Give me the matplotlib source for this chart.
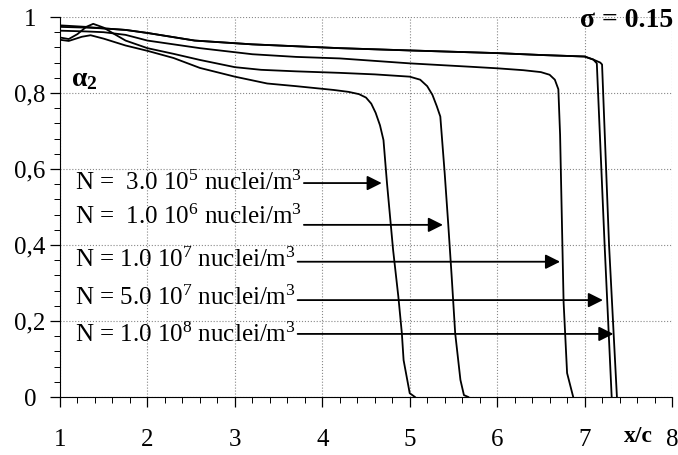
import matplotlib
matplotlib.use("Agg")
import matplotlib.pyplot as plt
import matplotlib.transforms as mtransforms
from matplotlib.ticker import MultipleLocator

plt.rcParams['font.family'] = ['Liberation Serif', 'DejaVu Serif']
plt.rcParams['mathtext.fontset'] = 'custom'
plt.rcParams['mathtext.rm'] = 'Liberation Serif'
plt.rcParams['mathtext.it'] = 'Liberation Serif:italic'
plt.rcParams['mathtext.bf'] = 'Liberation Serif:bold'

# alpha_2 profiles along x/c, one per nuclei concentration
x_3e5 = [1.0, 1.1, 1.25, 1.35, 1.5, 1.75, 2.0, 2.3, 2.6, 3.0, 3.37, 3.7, 4.13, 4.3,
         4.42, 4.5, 4.56, 4.61, 4.66, 4.70, 4.74, 4.81, 4.87, 4.91, 4.93, 5.0, 5.06]
y_3e5 = [0.940, 0.937, 0.948, 0.952, 0.943, 0.925, 0.911, 0.892, 0.866, 0.843, 0.825, 0.818,
         0.808, 0.803, 0.797, 0.788, 0.772, 0.748, 0.715, 0.676, 0.563, 0.387, 0.264, 0.168,
         0.097, 0.010, 0.0]

x_1e6 = [1.0, 1.1, 1.2, 1.3, 1.38, 1.5, 1.6, 1.75, 2.0, 2.3, 2.6, 3.0, 3.3, 3.7, 4.2, 4.6,
         5.0, 5.12, 5.2, 5.26, 5.31, 5.35, 5.40, 5.44, 5.48, 5.52, 5.58, 5.62, 5.67]
y_1e6 = [0.946, 0.942, 0.955, 0.974, 0.982, 0.972, 0.958, 0.938, 0.918, 0.903, 0.887, 0.868,
         0.861, 0.857, 0.853, 0.849, 0.843, 0.835, 0.818, 0.795, 0.765, 0.738, 0.589, 0.457,
         0.317, 0.168, 0.045, 0.005, 0.0]

x_1e7 = [1.0, 1.3, 1.5, 1.75, 2.0, 2.6, 3.2, 3.7, 4.2, 5.0, 5.7, 6.0, 6.3, 6.5, 6.6,
         6.66, 6.70, 6.72, 6.74, 6.76, 6.80, 6.87]
y_1e7 = [0.964, 0.962, 0.960, 0.953, 0.938, 0.918, 0.902, 0.895, 0.891, 0.878, 0.869, 0.865,
         0.860, 0.855, 0.848, 0.835, 0.810, 0.690, 0.470, 0.250, 0.063, 0.0]

x_5e7 = [1.0, 1.3, 1.5, 1.75, 2.0, 2.54, 3.2, 4.2, 5.0, 6.0, 6.5, 7.0, 7.1, 7.14, 7.23, 7.31]
y_5e7 = [0.974, 0.972, 0.970, 0.966, 0.958, 0.938, 0.928, 0.918, 0.912, 0.905, 0.900, 0.896,
         0.888, 0.878, 0.396, 0.0]

x_1e8 = [1.0, 1.3, 1.5, 1.75, 2.0, 2.54, 3.2, 4.2, 5.0, 6.0, 6.5, 7.0, 7.1, 7.18, 7.20, 7.28, 7.37]
y_1e8 = [0.978, 0.974, 0.970, 0.966, 0.958, 0.938, 0.928, 0.918, 0.912, 0.905, 0.900, 0.896,
         0.888, 0.880, 0.875, 0.400, 0.0]

curves = [(x_3e5, y_3e5), (x_1e6, y_1e6), (x_1e7, y_1e7), (x_5e7, y_5e7), (x_1e8, y_1e8)]

labels = ['N =  3.0 10$^5$ nuclei/m$^3$',
          'N =  1.0 10$^6$ nuclei/m$^3$',
          'N = 1.0 10$^7$ nuclei/m$^3$',
          'N = 5.0 10$^7$ nuclei/m$^3$',
          'N = 1.0 10$^8$ nuclei/m$^3$']
label_y = [0.563, 0.474, 0.361, 0.262, 0.164]
arrow_y = [0.563, 0.453, 0.356, 0.255, 0.166]
arrow_tip = [4.68, 5.38, 6.72, 7.21, 7.33]

x_ticks = [1, 2, 3, 4, 5, 6, 7, 8]
x_tick_labels = ['1', '2', '3', '4', '5', '6', '7', '8']
y_ticks = [0, 0.2, 0.4, 0.6, 0.8, 1.0]
y_tick_labels = ['0', '0,2', '0,4', '0,6', '0,8', '1']

fig = plt.figure(figsize=(6.78, 4.55), dpi=100)
ax = fig.add_axes([60 / 678, 1 - 397 / 455, 612 / 678, 380 / 455])

for xs, ys in curves:
    ax.plot(xs, ys, color='black', lw=1.3)

ax.set_xlim(1, 8)
ax.set_ylim(0, 1)
ax.set_xticks(x_ticks)
ax.set_xticklabels(x_tick_labels)
ax.set_yticks(y_ticks)
ax.xaxis.set_minor_locator(MultipleLocator(0.2))
ax.yaxis.set_minor_locator(MultipleLocator(0.04))
ax.tick_params(axis='both', which='major', direction='out', length=7, width=0.9, labelsize=18)
ax.tick_params(axis='both', which='minor', direction='out', length=4, width=0.7)
ax.tick_params(axis='x', which='major', pad=16)
ax.tick_params(axis='y', which='both', labelleft=False)

# y labels are centred in the original, so place them by hand
ylab_trans = mtransforms.blended_transform_factory(ax.transAxes, ax.transData)
for val, lab in zip(y_ticks, y_tick_labels):
    ax.text(-0.049, val, lab, transform=ylab_trans, fontsize=18,
            ha='center', va='center_baseline', clip_on=False)

for side in ['top', 'right']:
    ax.spines[side].set_visible(False)
ax.grid(True, which='major', linestyle=':', color='#888888', linewidth=0.8)

ax.text(7.62, -0.105, 'x/c', fontsize=17, fontweight='bold', ha='center', va='center')
ax.text(8.01, 0.992, 'σ = 0.15', fontsize=20, fontweight='bold', ha='right', va='center',
        clip_on=False)
ax.text(1.13, 0.834, r'$\mathbf{\alpha_2}$', fontsize=20, ha='left', va='center')

# labels with arrows pointing at the matching curve
fig.canvas.draw()
renderer = fig.canvas.get_renderer()
for text, ty, ay, tip in zip(labels, label_y, arrow_y, arrow_tip):
    t = ax.text(1.17, ty, text, fontsize=18, ha='left', va='center')
    bb = t.get_window_extent(renderer=renderer)
    tail = ax.transData.inverted().transform((bb.x1 + 2, 0))[0]
    ax.annotate('', xy=(tip, ay), xytext=(tail, ay),
                arrowprops=dict(arrowstyle='-|>', color='black', lw=1.3,
                                shrinkA=0, shrinkB=0, mutation_scale=22))

fig.savefig('out.png', dpi=100)
